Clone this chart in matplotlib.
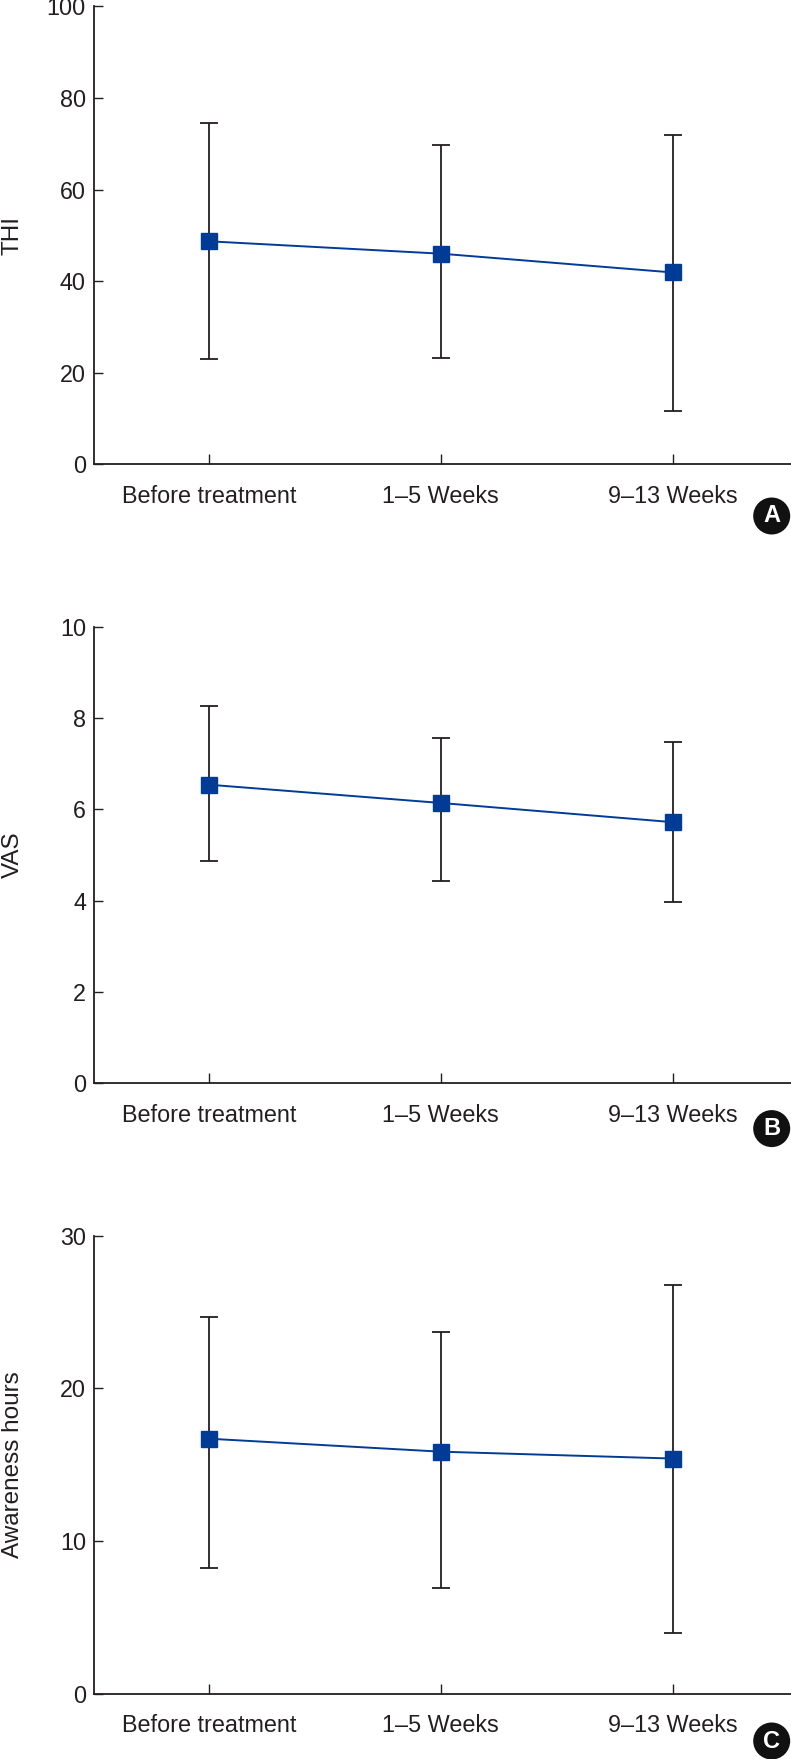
import numpy as np
import matplotlib
matplotlib.use('Agg')
import matplotlib.pyplot as plt
from matplotlib.patches import Circle

plt.rcParams['font.family'] = ['Liberation Sans', 'DejaVu Sans']

# ---- data ----
timepoints = ['Before treatment', '1\u20135 Weeks', '9\u201313 Weeks']

thi_mean = [48.7, 46.0, 41.9]
thi_low = [23.0, 23.3, 11.6]
thi_high = [74.6, 69.7, 72.0]

vas_mean = [6.54, 6.14, 5.72]
vas_low = [4.86, 4.43, 3.97]
vas_high = [8.27, 7.57, 7.48]

hours_mean = [16.7, 15.85, 15.4]
hours_low = [8.2, 6.9, 4.0]
hours_high = [24.65, 23.7, 26.8]

ylabels = ['THI', 'VAS', 'Awareness hours']
ylims = [100, 10, 30]
yticks = [[0, 20, 40, 60, 80, 100], [0, 2, 4, 6, 8, 10], [0, 10, 20, 30]]
letters = ['A', 'B', 'C']
# -----------------------------------

dark = '#231f20'
blue = '#003c96'

W, H = 791, 1759
fig = plt.figure(figsize=(W / 100, H / 100), dpi=100)

panels = [(thi_mean, thi_low, thi_high),
          (vas_mean, vas_low, vas_high),
          (hours_mean, hours_low, hours_high)]
ax_px = [(6.4, 464.3), (626.8, 1083.2), (1235.7, 1693.6)]   # top, bottom in pixels
badge_y = [516, 1128.6, 1741]

x = np.arange(len(timepoints))
for i, (mean, low, high) in enumerate(panels):
    top, bot = ax_px[i]
    ax = fig.add_axes([94.3 / W, 1 - bot / H, (790.7 - 94.3) / W, (bot - top) / H])
    mean = np.array(mean)
    yerr = [mean - np.array(low), np.array(high) - mean]
    ax.errorbar(x, mean, yerr=yerr, fmt='none', ecolor=dark, elinewidth=1.3,
                capsize=6.6, capthick=1.3, zorder=2)
    ax.plot(x, mean, color=blue, lw=1.4, marker='s', markersize=12,
            markerfacecolor=blue, markeredgecolor=blue, zorder=3)
    ax.set_xlim(-0.495, 2.51)
    ax.set_ylim(0, ylims[i])
    ax.set_yticks(yticks[i])
    ax.set_xticks(x)
    ax.set_xticklabels(timepoints)
    for s in ['top', 'right']:
        ax.spines[s].set_visible(False)
    for s in ['left', 'bottom']:
        ax.spines[s].set_color(dark)
        ax.spines[s].set_linewidth(1.3)
    ax.tick_params(axis='y', direction='in', length=6.5, width=1, color=dark,
                   labelsize=16.8, labelcolor=dark, pad=6)
    ax.tick_params(axis='x', direction='in', length=7.2, width=1, color=dark,
                   labelsize=16.8, labelcolor=dark, pad=15)
    ax.set_ylabel(ylabels[i], fontsize=17.5, color=dark)
    ax.yaxis.set_label_coords(-0.101, 0.5)

    # panel badge
    cx, cy = 771.7 / 100, (H - badge_y[i]) / 100
    fig.add_artist(Circle((cx, cy), 0.185, transform=fig.dpi_scale_trans,
                          facecolor='#111111', edgecolor='none'))
    fig.text(cx, cy, letters[i], transform=fig.dpi_scale_trans, color='white',
             fontsize=17, fontweight='bold', ha='center', va='center')

plt.savefig('out.png', dpi=100)
